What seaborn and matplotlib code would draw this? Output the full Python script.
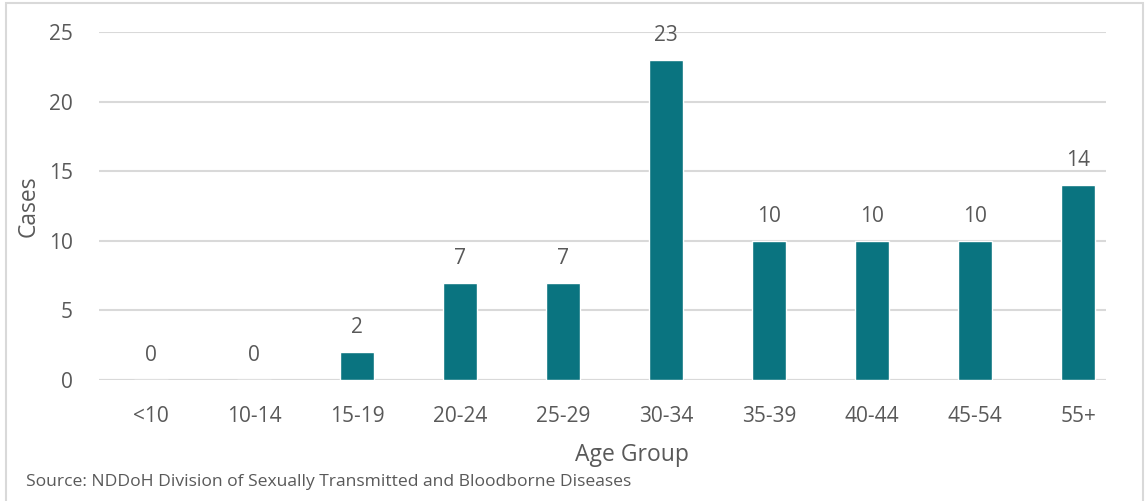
import matplotlib
matplotlib.use("Agg")
import matplotlib.pyplot as plt
import seaborn as sns
import pandas as pd
from matplotlib.patches import Rectangle

age_groups = ["<10", "10-14", "15-19", "20-24", "25-29", "30-34", "35-39", "40-44", "45-54", "55+"]
cases = [0, 0, 2, 7, 7, 23, 10, 10, 10, 14]
y_ticks = [0, 5, 10, 15, 20, 25]

sns.set_theme(style="white")
plt.rcParams["font.family"] = ["Open Sans", "DejaVu Sans"]

TEXT = "#595959"
BAR = "#0A7480"
GRID = "#D9D9D9"

df = pd.DataFrame({"Age Group": age_groups, "Cases": cases})

fig = plt.figure(figsize=(11.47, 5.01), dpi=100)
ax = fig.add_axes([99 / 1147, 1 - 380 / 501, (1106 - 99) / 1147, (380 - 32) / 501])

sns.barplot(data=df, x="Age Group", y="Cases", color=BAR, width=0.33,
            saturation=1, ax=ax, zorder=3)

ax.set_ylim(0, 25)
ax.set_xlim(-0.505, 9.27)
ax.set_yticks(y_ticks)
ax.yaxis.grid(True, color=GRID, linewidth=1.5, zorder=0)
ax.set_axisbelow(True)
for s in ax.spines.values():
    s.set_visible(False)
ax.axhline(0, color=GRID, linewidth=1.5, zorder=1)

ax.tick_params(axis="both", length=0, labelsize=15, colors=TEXT)
ax.tick_params(axis="x", pad=19)
ax.tick_params(axis="y", pad=19)

ax.set_xlabel("Age Group", fontsize=16.5, color=TEXT, labelpad=11)
ax.xaxis.label.set_x(0.529)
ax.set_ylabel("Cases", fontsize=16.5, color=TEXT, labelpad=6)

for container in ax.containers:
    ax.bar_label(container, labels=[str(v) for v in cases], padding=10,
                 fontsize=15, color=TEXT)

fig.text(26 / 1147, 1 - 482 / 501, "Source: NDDoH Division of Sexually Transmitted and Bloodborne Diseases",
         fontsize=12.6, color=TEXT, va="center", ha="left")

# light frame around the whole chart
fig.patches.append(Rectangle((6 / 1147, -0.05), (1143 - 6) / 1147, 1 - 3 / 501 + 0.05,
                             transform=fig.transFigure, fill=False,
                             edgecolor=GRID, linewidth=1.5))

fig.savefig("out.png", dpi=100, facecolor="white")
